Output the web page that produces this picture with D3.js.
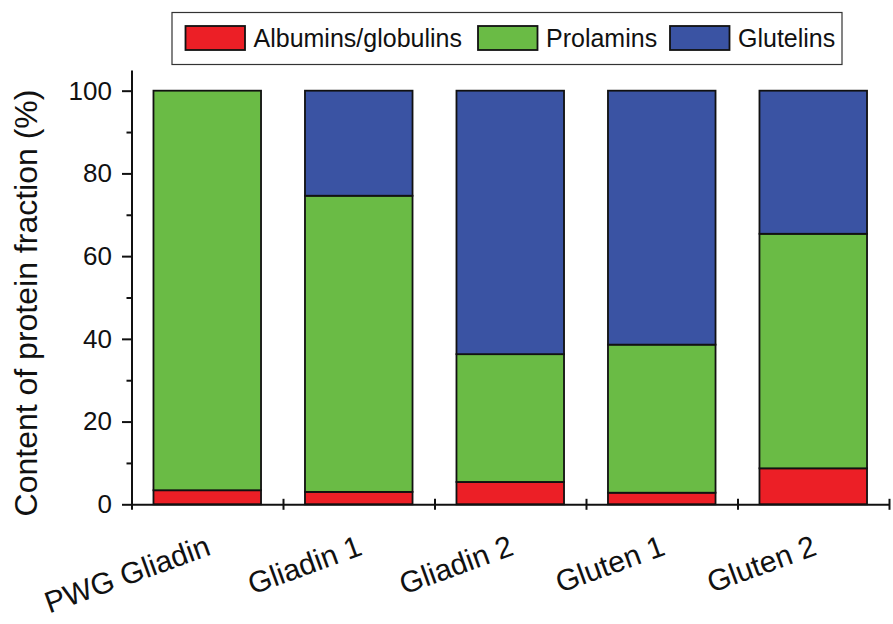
<!DOCTYPE html>
<html>
<head>
<meta charset="utf-8">
<script src="https://cdn.jsdelivr.net/npm/d3@7"></script>
<style>
  html, body { margin: 0; padding: 0; background: #fff; }
  svg { display: block; font-family: "Liberation Sans", Arial, Helvetica, sans-serif; }
</style>
</head>
<body>
<svg id="chart" width="893" height="624"></svg>
<script>
const categories = ["PWG Gliadin", "Gliadin 1", "Gliadin 2", "Gluten 1", "Gluten 2"];
const seriesNames = ["Albumins/globulins", "Prolamins", "Glutelins"];
const albumins = [3.4, 3.0, 5.4, 2.8, 8.7];
const prolamins = [96.6, 71.6, 30.9, 35.8, 56.7];
const glutelins = [0, 25.4, 63.7, 61.4, 34.6];
const yTicks = [0, 20, 40, 60, 80, 100];
const yMinorTicks = [10, 30, 50, 70, 90];
const colors = ["#ec1f26", "#6abb45", "#3a53a3"];

const table = categories.map((c, i) => ({
  cat: c,
  "Albumins/globulins": albumins[i],
  "Prolamins": prolamins[i],
  "Glutelins": glutelins[i]
}));

const svg = d3.select("#chart");
const x = d3.scaleBand().domain(categories).range([131.5, 889]).paddingInner(0.29).paddingOuter(0.145);
const y = d3.scaleLinear().domain([0, 105]).range([504.3, 70]);

const stack = d3.stack().keys(seriesNames);
const layers = stack(table);

// bars
svg.append("g").selectAll("g").data(layers).join("g")
  .attr("fill", (d, i) => colors[i])
  .selectAll("rect").data(d => d.filter(p => p[1] - p[0] > 0)).join("rect")
  .attr("x", d => x(d.data.cat))
  .attr("width", x.bandwidth())
  .attr("y", d => y(d[1]))
  .attr("height", d => y(d[0]) - y(d[1]))
  .attr("stroke", "#111")
  .attr("stroke-width", 1.8);

// y axis
const yAxis = svg.append("g").attr("transform", "translate(131.5,0)")
  .call(d3.axisLeft(y).tickValues(yTicks).tickSize(9.5).tickPadding(10).tickSizeOuter(0));
yAxis.select(".domain").attr("stroke", "#111").attr("stroke-width", 2);
yAxis.selectAll(".tick line").attr("stroke", "#111").attr("stroke-width", 2);
yAxis.selectAll(".tick text").attr("font-size", 26).attr("fill", "#111")
  .attr("font-family", "'Liberation Sans', Arial, sans-serif");

const yMinor = svg.append("g").attr("transform", "translate(131.5,0)")
  .call(d3.axisLeft(y).tickValues(yMinorTicks).tickSize(5).tickFormat(""));
yMinor.select(".domain").remove();
yMinor.selectAll(".tick line").attr("stroke", "#111").attr("stroke-width", 2);

// x axis boundary ticks
const xb = d3.scaleLinear().domain([0, categories.length]).range([131.5, 889]);
const xAxisB = svg.append("g").attr("transform", "translate(0,504.3)")
  .call(d3.axisBottom(xb).tickValues(d3.range(0, categories.length + 1)).tickFormat("").tickSizeOuter(0));
xAxisB.select(".domain").attr("stroke", "#111").attr("stroke-width", 2);
xAxisB.selectAll(".tick line").attr("y1", -5.5).attr("y2", 5.5).attr("stroke", "#111").attr("stroke-width", 2);

// x labels
const xAxis = svg.append("g").attr("transform", "translate(0,504.3)")
  .call(d3.axisBottom(x).tickSize(0));
xAxis.select(".domain").remove();
xAxis.selectAll(".tick text")
  .attr("y", 0).attr("dy", 0)
  .attr("transform", "translate(5,50) rotate(-20)")
  .attr("text-anchor", "end")
  .attr("font-size", 30).attr("fill", "#111")
  .attr("font-family", "'Liberation Sans', Arial, sans-serif");

// y title
svg.append("text")
  .attr("transform", "translate(37,303) rotate(-90)")
  .attr("text-anchor", "middle")
  .attr("font-size", 32).attr("fill", "#111")
  .text("Content of protein fraction (%)");

// legend
const legend = svg.append("g");
legend.append("rect").attr("x", 172).attr("y", 12.5).attr("width", 670).attr("height", 52)
  .attr("fill", "#fff").attr("stroke", "#333").attr("stroke-width", 1.2);
const legendX = [185.5, 478, 670];
seriesNames.forEach((s, i) => {
  legend.append("rect").attr("x", legendX[i]).attr("y", 26).attr("width", 59.5).attr("height", 24)
    .attr("fill", colors[i]).attr("stroke", "#111").attr("stroke-width", 1.8);
  legend.append("text").attr("x", legendX[i] + 68).attr("y", 47)
    .attr("font-size", 25).attr("fill", "#111").text(s);
});
</script>
</body>
</html>
